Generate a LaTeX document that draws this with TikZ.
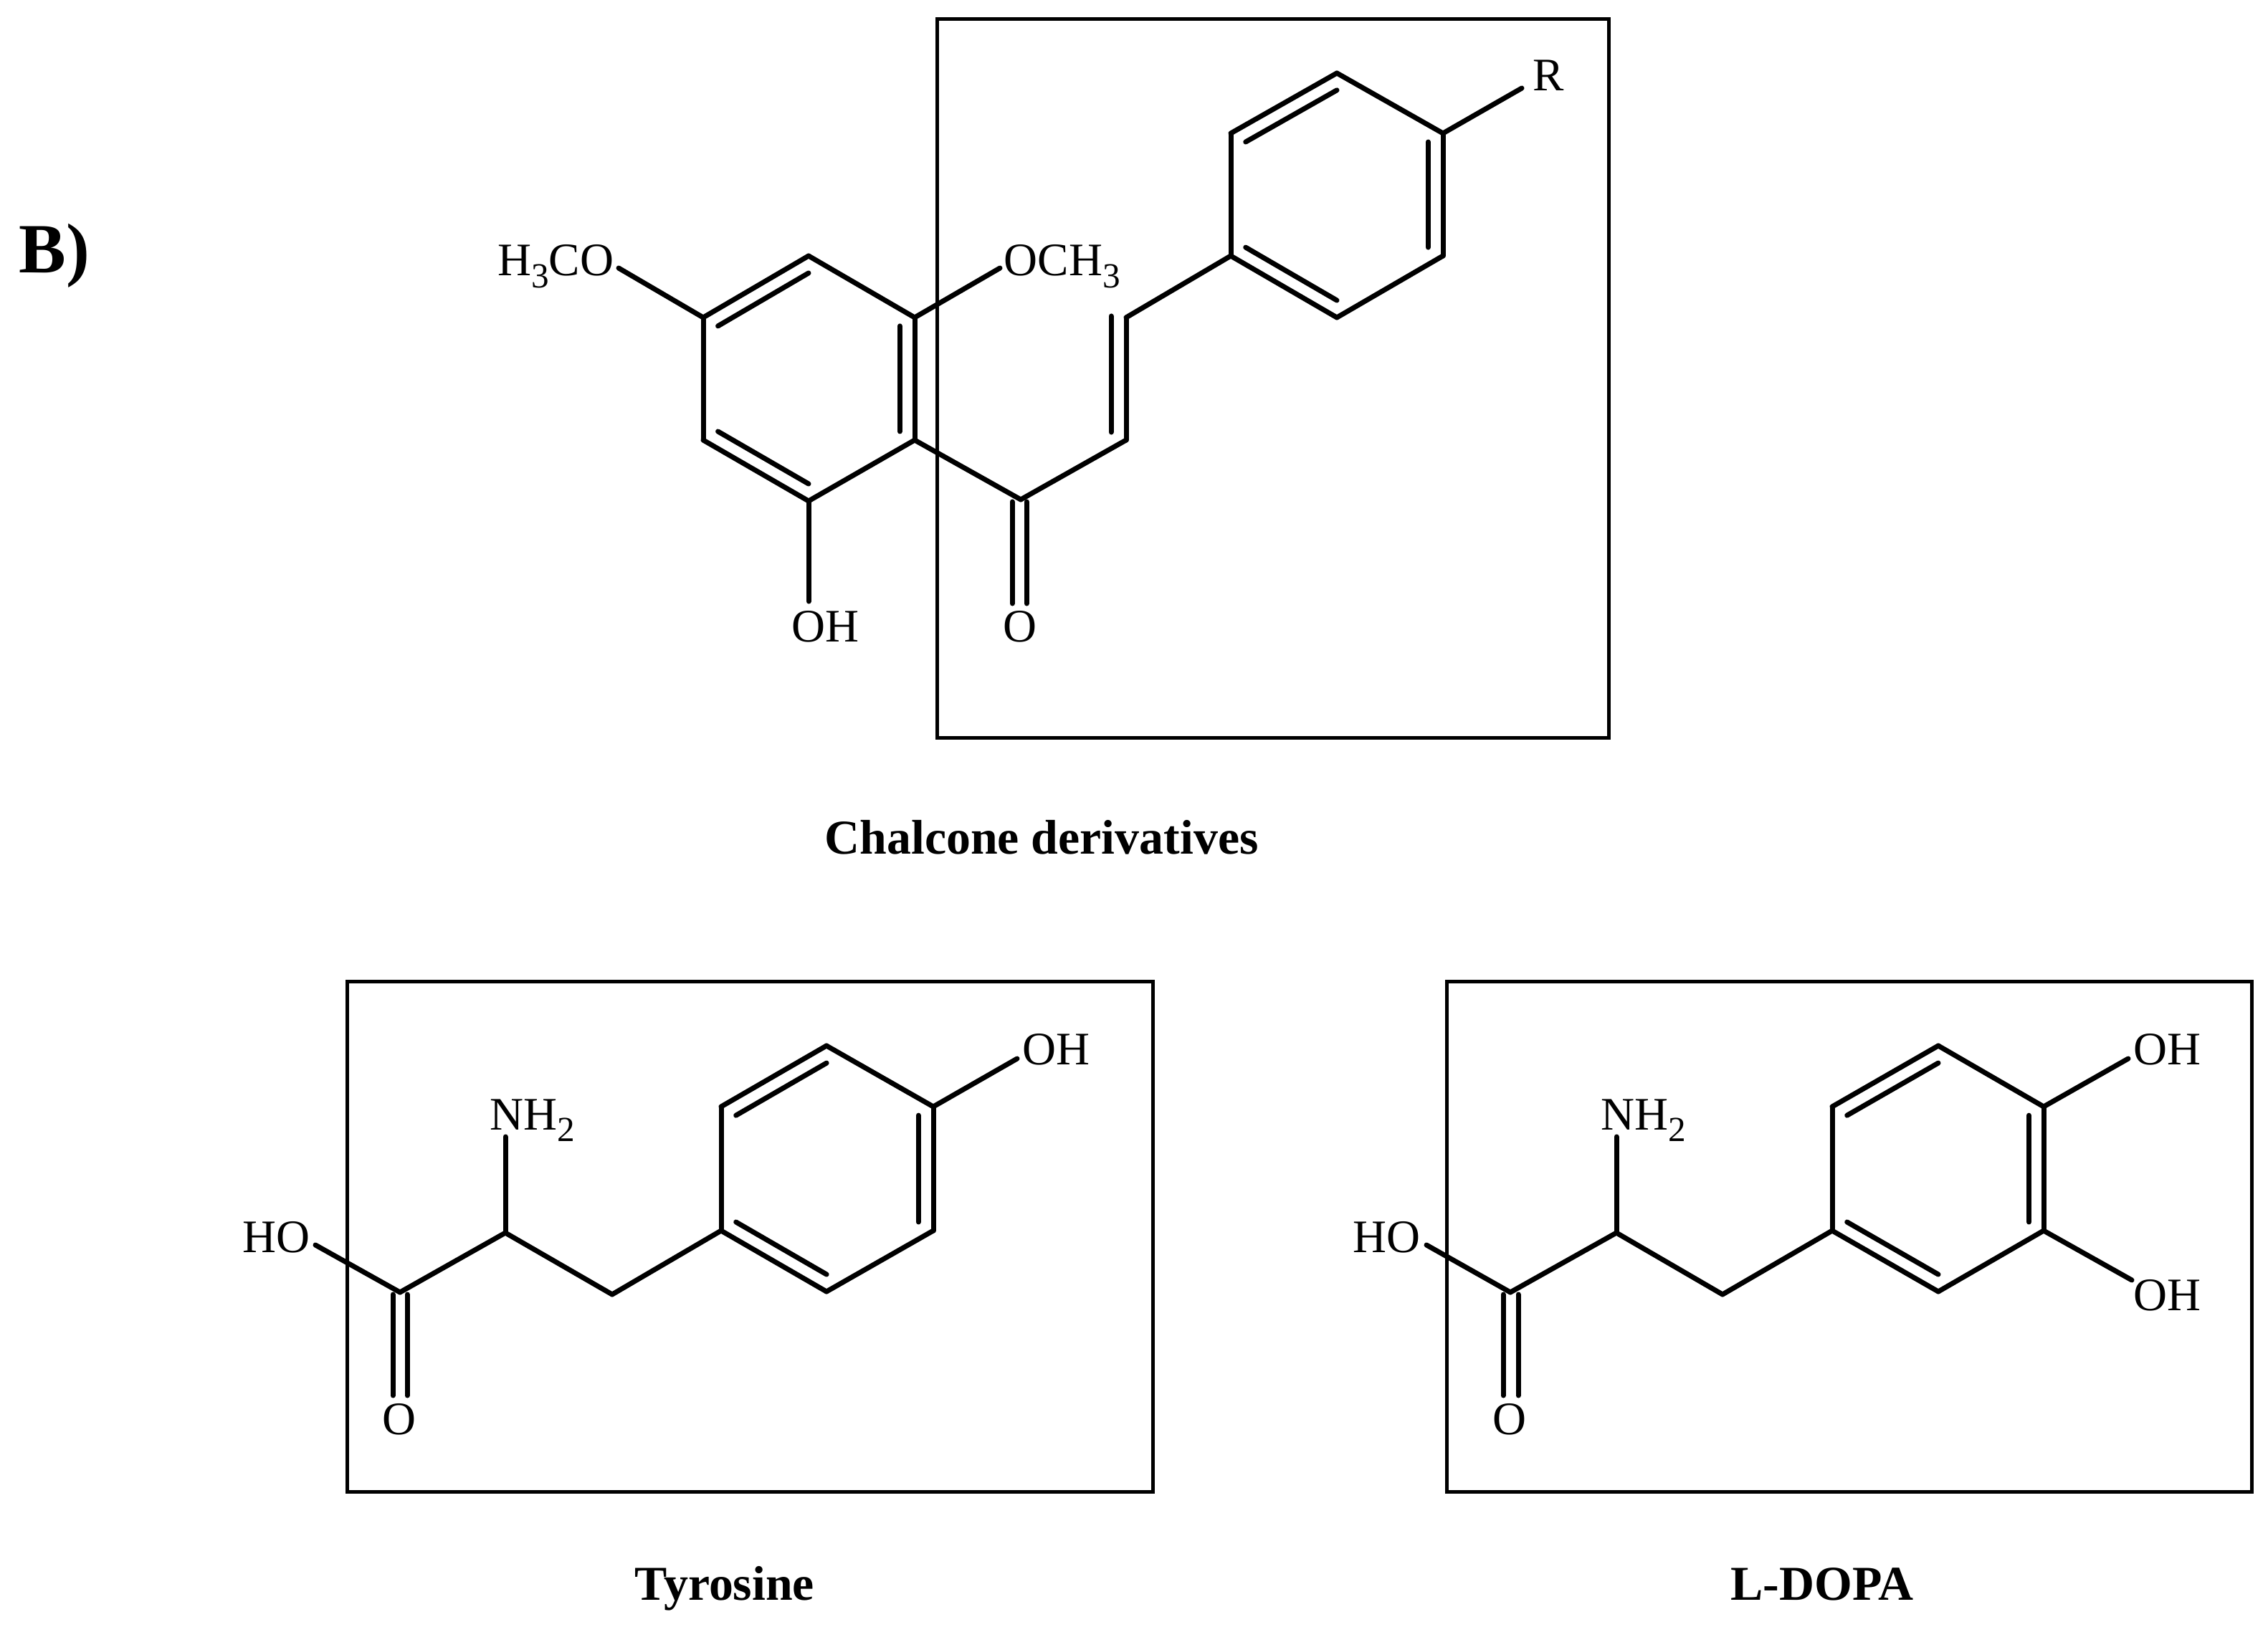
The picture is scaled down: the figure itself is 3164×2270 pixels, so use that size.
\documentclass[tikz,border=0pt]{standalone}
\usepackage{fontspec}
\setmainfont{Liberation Serif}
\usetikzlibrary{calc}
\tikzset{%
	bond/.style     = {line width=0.07cm, line cap=round, line join=round},
	frame/.style    = {draw, line width=0.05cm, outer sep=0pt, inner sep=0pt, anchor=north west},
	atom/.style     = {inner sep=0pt, font=\fontsize{18.5}{20}\selectfont},
	title/.style    = {inner sep=0pt, anchor=base, font=\fontsize{19.3}{21}\selectfont\bfseries},
}
% inner line of a ring double bond
\newcommand{\innerline}[3]{\draw[bond] ($(#1)!0.14!(#3)$) -- ($(#2)!0.14!(#3)$);}
% low subscript as the drawing program sets it
\newcommand{\lowsub}[1]{\raisebox{-4.6pt}{\fontsize{14}{14}\selectfont #1}}

\begin{document}
\begin{tikzpicture}[x=0.01cm,y=-0.01cm]
	\useasboundingbox (0,0) rectangle (3164,2270);

	\node[inner sep=0pt, anchor=base west, font=\fontsize{28}{30}\selectfont\bfseries] (panel) at (26,380) {B)};

	% chalcone
	\node[frame, minimum width=9.37cm, minimum height=10.02cm] (boxC) at (1307,27) {};
	\coordinate (a1) at (1128,357);
	\coordinate (a2) at (1276,443);
	\coordinate (a3) at (1276,614);
	\coordinate (a4) at (1128,699);
	\coordinate (a5) at (981,614);
	\coordinate (a6) at (981,443);
	\coordinate (ac) at (1128,528);
	\coordinate (co) at (1424,697);
	\coordinate (ca) at (1571,614);
	\coordinate (cb) at (1571,443);
	\coordinate (b1) at (1717,357);
	\coordinate (b2) at (1717,186);
	\coordinate (b3) at (1865,102);
	\coordinate (b4) at (2013,186);
	\coordinate (b5) at (2013,357);
	\coordinate (b6) at (1865,443);
	\coordinate (bc) at (1865,272);
	\coordinate (endR) at (2123,123);
	\coordinate (endOMeR) at (1395,374);
	\coordinate (endOMeL) at (863,374);
	\coordinate (endOH) at (1128,839);
	\node[atom, anchor=base] (R) at (2160,127) {R};
	\node[atom, anchor=base west] (OMeR) at (1400,385) {OCH\lowsub{3}};
	\node[atom, anchor=base east] (OMeL) at (857,385) {H\lowsub{3}CO};
	\node[atom, anchor=base] (OHa) at (1151,895) {OH};
	\node[atom, anchor=base] (Oc) at (1423,895) {O};
	\draw[bond] (a1) -- (a2);
	\draw[bond] (a2) -- (a3);
	\draw[bond] (a3) -- (a4);
	\draw[bond] (a4) -- (a5);
	\draw[bond] (a5) -- (a6);
	\draw[bond] (a6) -- (a1);
	\innerline{a6}{a1}{ac}
	\innerline{a2}{a3}{ac}
	\innerline{a4}{a5}{ac}
	\draw[bond] (a3) -- (co);
	\draw[bond] (co) -- (ca);
	\draw[bond] (ca) -- (cb);
	\draw[bond] ($(cb)+(-21,-2)$) -- ($(ca)+(-21,-11)$);
	\draw[bond] (cb) -- (b1);
	\draw[bond] (b1) -- (b2);
	\draw[bond] (b2) -- (b3);
	\draw[bond] (b3) -- (b4);
	\draw[bond] (b4) -- (b5);
	\draw[bond] (b5) -- (b6);
	\draw[bond] (b6) -- (b1);
	\innerline{b2}{b3}{bc}
	\innerline{b4}{b5}{bc}
	\innerline{b6}{b1}{bc}
	\draw[bond] (b4) -- (endR);
	\draw[bond] (a2) -- (endOMeR);
	\draw[bond] (a6) -- (endOMeL);
	\draw[bond] (a4) -- (endOH);
	\draw[bond] ($(co)+(-12,3)$) -- ++(0,142);
	\draw[bond] ($(co)+(8,3)$) -- ++(0,142);
	\node[title] (nameC) at (1453,1191) {Chalcone derivatives};

	% tyrosine
	\node[frame, minimum width=11.24cm, minimum height=7.12cm] (boxT) at (484,1369) {};
	\coordinate (t1) at (558,1803);
	\coordinate (t2) at (705,1720);
	\coordinate (t3) at (854,1806);
	\coordinate (r1) at (1006,1717);
	\coordinate (r2) at (1006,1544);
	\coordinate (r3) at (1153,1459);
	\coordinate (r4) at (1302,1544);
	\coordinate (r5) at (1302,1717);
	\coordinate (r6) at (1153,1802);
	\coordinate (rc) at (1154,1631);
	\coordinate (endTHO) at (440,1737);
	\coordinate (endTN) at (705,1586);
	\coordinate (endTOH) at (1419,1477);
	\node[atom, anchor=base east] (HOt) at (433,1747) {HO};
	\node[atom, anchor=base west] (NHt) at (683,1576) {NH\lowsub{2}};
	\node[atom, anchor=base west] (OHt) at (1426,1485) {OH};
	\node[atom, anchor=base] (Ot) at (557,2001) {O};
	\draw[bond] (endTHO) -- (t1);
	\draw[bond] (t1) -- (t2);
	\draw[bond] (t2) -- (t3);
	\draw[bond] (t3) -- (r1);
	\draw[bond] (t2) -- (endTN);
	\draw[bond] (r1) -- (r2);
	\draw[bond] (r2) -- (r3);
	\draw[bond] (r3) -- (r4);
	\draw[bond] (r4) -- (r5);
	\draw[bond] (r5) -- (r6);
	\draw[bond] (r6) -- (r1);
	\innerline{r2}{r3}{rc}
	\innerline{r4}{r5}{rc}
	\innerline{r6}{r1}{rc}
	\draw[bond] (r4) -- (endTOH);
	\draw[bond] ($(t1)+(-10,3)$) -- ++(0,141);
	\draw[bond] ($(t1)+(10,3)$) -- ++(0,141);
	\node[title] (nameT) at (1011,2232) {Tyrosine};

	% L-DOPA
	\node[frame, minimum width=11.23cm, minimum height=7.12cm] (boxD) at (2018,1369) {};
	\coordinate (d1) at (2107,1803);
	\coordinate (d2) at (2255,1720);
	\coordinate (d3) at (2403,1806);
	\coordinate (s1) at (2556,1717);
	\coordinate (s2) at (2556,1544);
	\coordinate (s3) at (2704,1459);
	\coordinate (s4) at (2851,1544);
	\coordinate (s5) at (2851,1717);
	\coordinate (s6) at (2704,1802);
	\coordinate (sc) at (2704,1631);
	\coordinate (endDHO) at (1990,1737);
	\coordinate (endDN) at (2255,1586);
	\coordinate (endDOH) at (2969,1477);
	\coordinate (endDOHb) at (2974,1786);
	\node[atom, anchor=base east] (HOd) at (1982,1747) {HO};
	\node[atom, anchor=base west] (NHd) at (2233,1576) {NH\lowsub{2}};
	\node[atom, anchor=base west] (OHd) at (2976,1485) {OH};
	\node[atom, anchor=base west] (OHe) at (2976,1828) {OH};
	\node[atom, anchor=base] (Od) at (2106,2001) {O};
	\draw[bond] (endDHO) -- (d1);
	\draw[bond] (d1) -- (d2);
	\draw[bond] (d2) -- (d3);
	\draw[bond] (d3) -- (s1);
	\draw[bond] (d2) -- (endDN);
	\draw[bond] (s1) -- (s2);
	\draw[bond] (s2) -- (s3);
	\draw[bond] (s3) -- (s4);
	\draw[bond] (s4) -- (s5);
	\draw[bond] (s5) -- (s6);
	\draw[bond] (s6) -- (s1);
	\innerline{s2}{s3}{sc}
	\innerline{s4}{s5}{sc}
	\innerline{s6}{s1}{sc}
	\draw[bond] (s4) -- (endDOH);
	\draw[bond] (s5) -- (endDOHb);
	\draw[bond] ($(d1)+(-10,3)$) -- ++(0,141);
	\draw[bond] ($(d1)+(11,3)$) -- ++(0,141);
	\node[title] (nameD) at (2542,2232) {L-DOPA};
\end{tikzpicture}
\end{document}
